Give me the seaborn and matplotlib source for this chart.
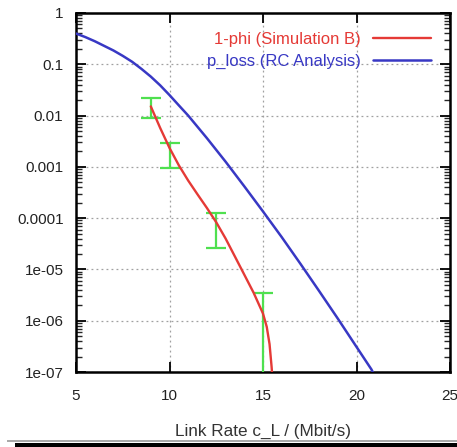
import numpy as np
import pandas as pd
import seaborn as sns
import matplotlib
matplotlib.use("Agg")
import matplotlib.pyplot as plt
from matplotlib.patches import Rectangle

# ---- data ----
blue_x = [5, 5.5, 6, 6.5, 7, 7.5, 8, 8.5, 9, 9.5, 10, 10.5, 11, 12, 13, 14,
          15, 16, 17, 18, 19, 20, 20.8, 21.0]
blue_y = [0.398, 0.339, 0.282, 0.229, 0.186, 0.146, 0.112, 0.0813, 0.0575,
          0.0389, 0.0251, 0.0158, 0.0100, 0.00363, 0.00126, 4.17e-4, 1.35e-4,
          4.27e-5, 1.29e-5, 3.80e-6, 1.10e-6, 3.09e-7, 1.12e-7, 8e-8]

red_x = [9.0, 9.5, 10.0, 10.5, 11.0, 11.5, 12.0, 12.5, 13.0, 13.5, 14.0,
         14.5, 15.0, 15.2, 15.35, 15.46, 15.5]
red_y = [0.0151, 0.00575, 0.00234, 0.00107, 5.4e-4, 2.9e-4, 1.58e-4, 8.3e-5,
         4.0e-5, 1.78e-5, 7.9e-6, 3.5e-6, 1.38e-6, 7.6e-7, 3.5e-7, 1.26e-7,
         8e-8]

err_x = [9, 10, 12.5, 15]
err_y = [0.014, 0.0017, 5.5e-5, 1.4e-6]
err_lo = [0.0089, 0.00093, 2.6e-5, 1e-8]
err_hi = [0.022, 0.0029, 1.26e-4, 3.5e-6]

x_ticks = [5, 10, 15, 20, 25]
y_ticks = [1, 0.1, 0.01, 0.001, 0.0001, 1e-5, 1e-6, 1e-7]
y_tick_labels = ["1", "0.1", "0.01", "0.001", "0.0001", "1e-05", "1e-06", "1e-07"]

label_red = "1-phi (Simulation B)"
label_blue = "p_loss (RC Analysis)"
x_label = "Link Rate c_L / (Mbit/s)"

# ---- plot ----
sns.set_style("ticks")
plt.rcParams['font.family'] = ['Liberation Sans', 'DejaVu Sans']

fig = plt.figure(figsize=(4.57, 4.47), dpi=100)
ax = fig.add_axes([76 / 457, 1 - 372 / 447, (450 - 76) / 457, (372 - 13) / 447])

red_c = "#e53a36"
blue_c = "#3838c4"
green_c = "#4fe04f"

df_red = pd.DataFrame({"x": red_x, "y": red_y})
df_blue = pd.DataFrame({"x": blue_x, "y": blue_y})

yerr = [np.array(err_y) - np.array(err_lo), np.array(err_hi) - np.array(err_y)]
ax.errorbar(err_x, err_y, yerr=yerr, fmt='none', ecolor=green_c,
            elinewidth=1.6, capsize=7, capthick=1.6, zorder=3)

sns.lineplot(data=df_red, x="x", y="y", ax=ax, color=red_c, lw=1.7,
             label=label_red, zorder=4)
sns.lineplot(data=df_blue, x="x", y="y", ax=ax, color=blue_c, lw=1.8,
             label=label_blue, zorder=4)

ax.set_yscale("log")
ax.set_xlim(5, 25)
ax.set_ylim(1e-7, 1)
ax.set_xticks(x_ticks)
ax.set_xticklabels([str(v) for v in x_ticks])
ax.set_yticks(y_ticks)
ax.set_yticklabels(y_tick_labels)

ax.grid(True, which="major", color="#a0a0a0", linestyle=(0, (1.5, 2.5)), lw=0.9)
for s in ax.spines.values():
    s.set_color("black")
    s.set_linewidth(1.8)

ax.tick_params(axis="both", which="major", direction="in", length=7, width=1.3,
               top=True, right=True, labelsize=11, colors="black")
ax.tick_params(axis="x", which="major", pad=12)
ax.tick_params(axis="y", which="major", pad=9)
ax.tick_params(axis="y", which="minor", direction="in", length=4, width=1.0,
               left=True, right=True)
ax.tick_params(axis="x", which="minor", bottom=False, top=False)
for lab in ax.get_xticklabels() + ax.get_yticklabels():
    lab.set_color("#222222")

ax.set_xlabel(x_label, fontsize=12.3, color="#333333", labelpad=15)
ax.set_ylabel("")

leg = ax.legend(loc="upper right", frameon=False, markerfirst=False,
                handlelength=3.5, fontsize=12, borderaxespad=0.75,
                labelspacing=0.4, handletextpad=0.7)
for txt, c in zip(leg.get_texts(), [red_c, blue_c]):
    txt.set_color(c)
    txt.set_ha("right")

# bottom strip artefacts of the reference picture
fig.add_artist(Rectangle((7 / 457, 1 - 441.5 / 447), 1, 1.5 / 447,
                         transform=fig.transFigure, color="#aaaaaa", lw=0))
fig.add_artist(Rectangle((15 / 457, 0), 1, 4.5 / 447,
                         transform=fig.transFigure, color="black", lw=0))

fig.savefig("out.png", dpi=100)
